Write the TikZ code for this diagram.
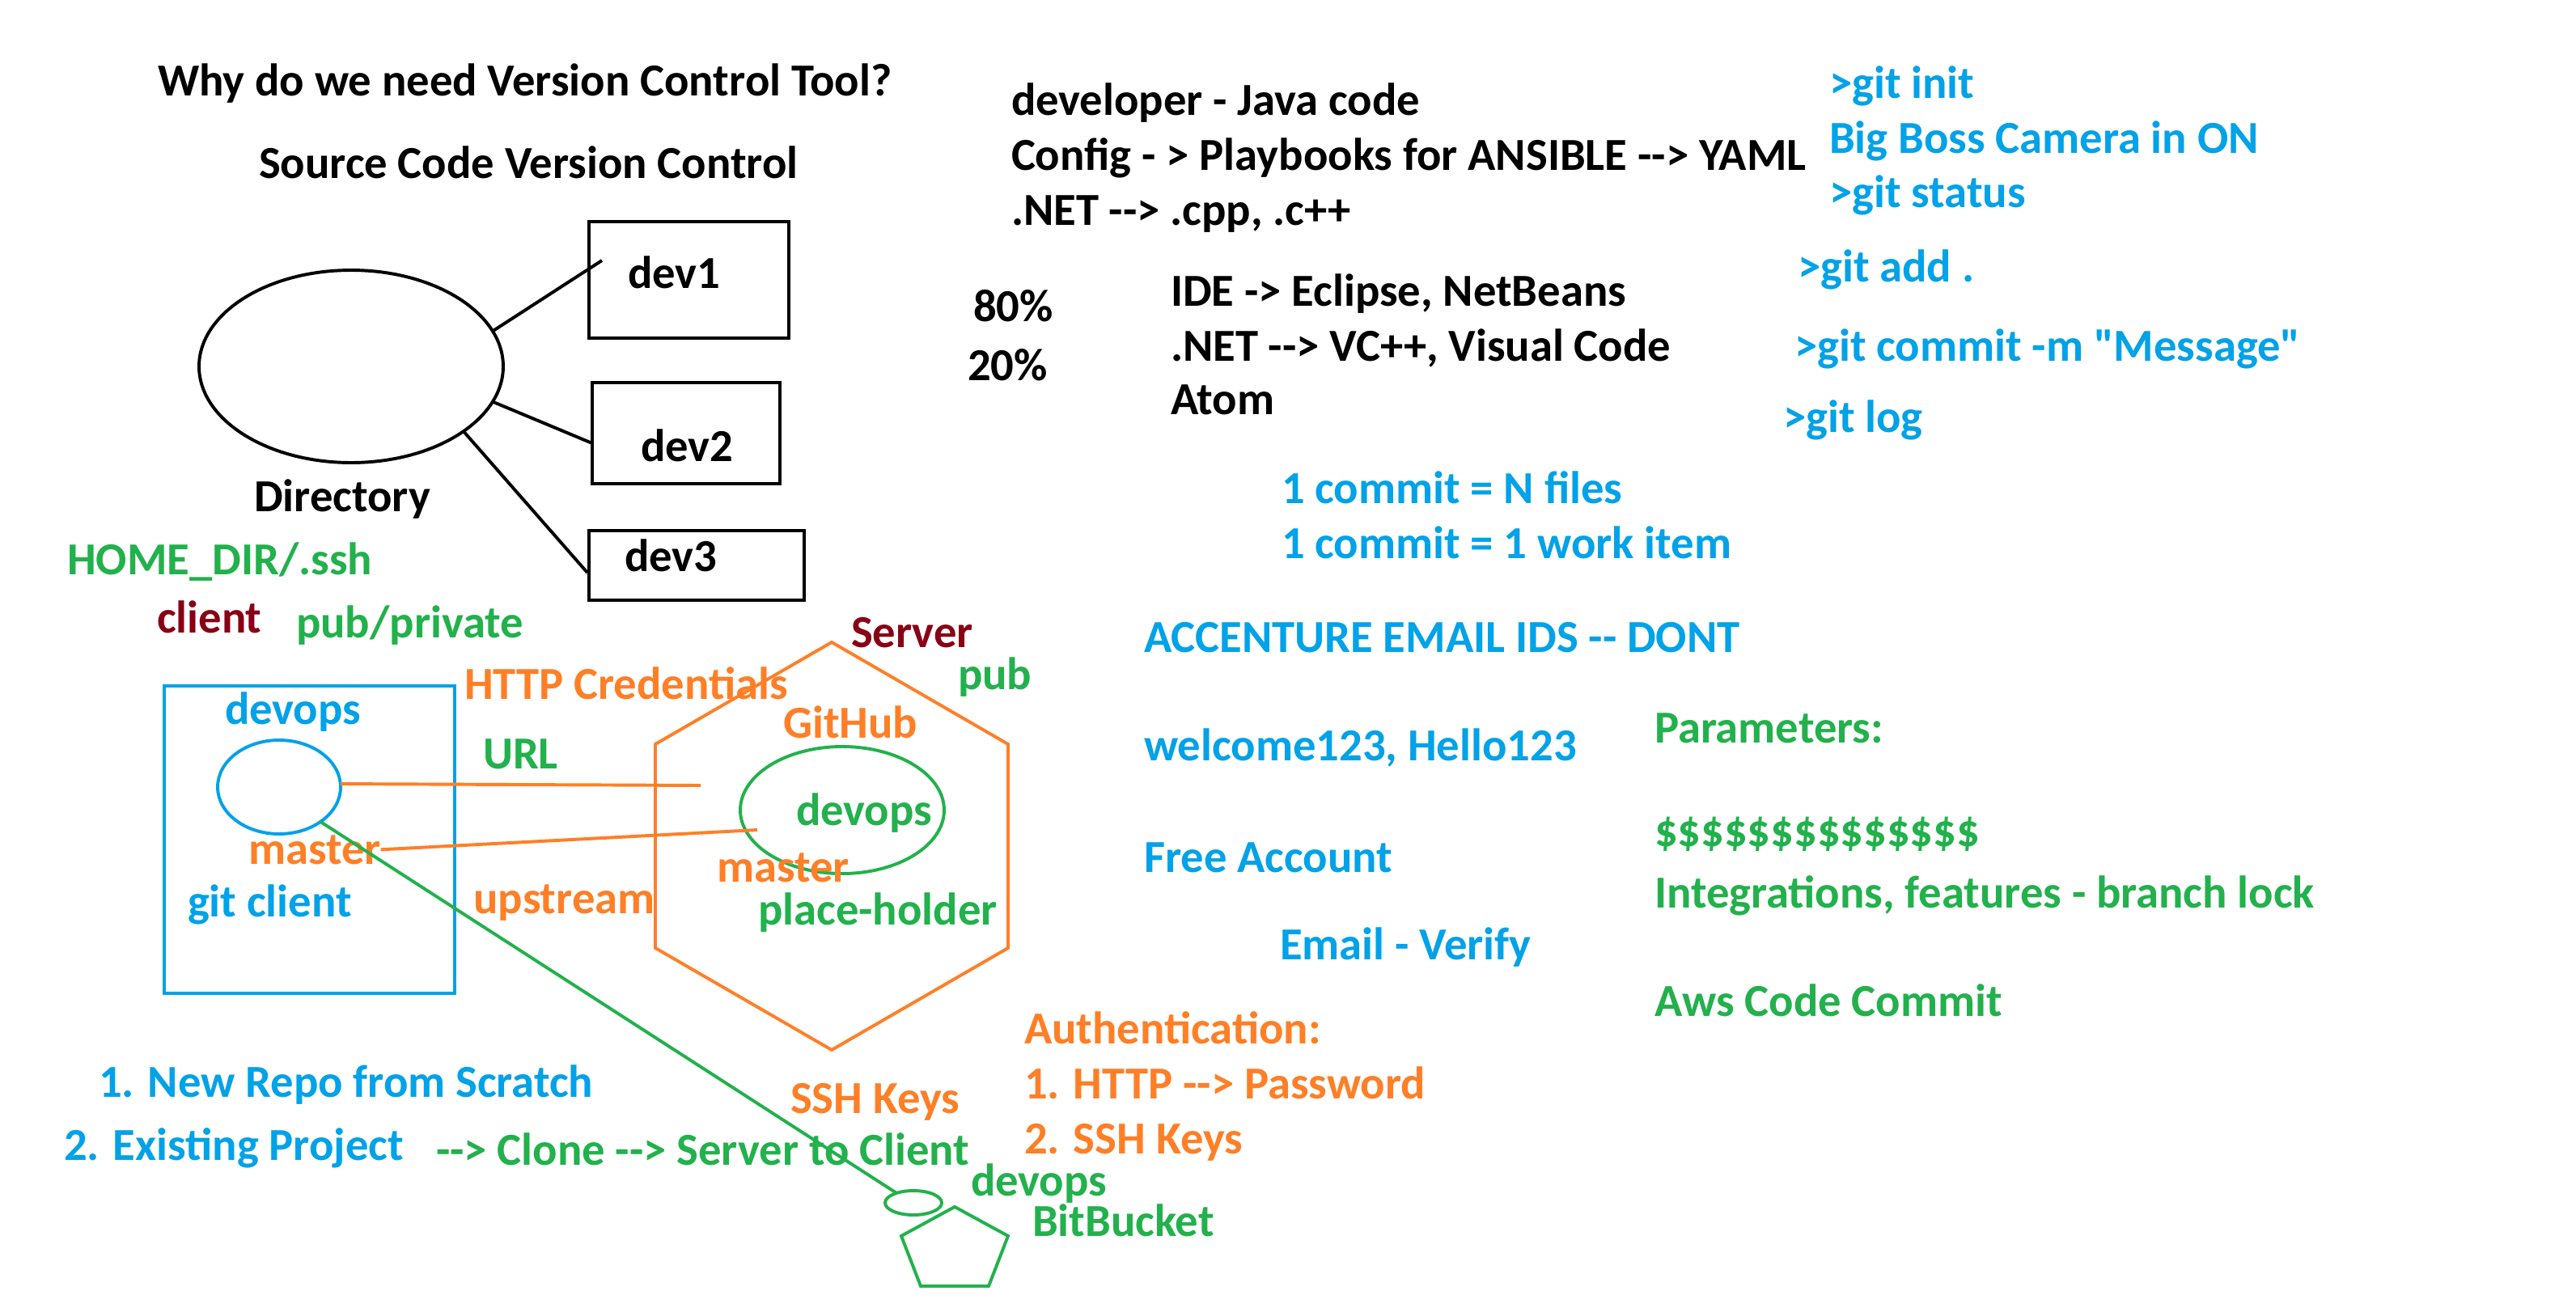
\documentclass[tikz,border=0pt]{standalone}
\usepackage{fontspec}
\newfontfamily\calib{Carlito}
\usetikzlibrary{shapes.geometric}
\definecolor{cblue}{RGB}{0,162,232}
\definecolor{corange}{RGB}{255,127,39}
\definecolor{cgreen}{RGB}{34,177,76}
\definecolor{cred}{RGB}{136,0,21}
\begin{document}
\begin{tikzpicture}[x=0.05cm,y=-0.05cm,
  txt/.style={anchor=base west,inner sep=0pt,outer sep=0pt,font=\calib\bfseries\fontsize{40.3}{48}\selectfont},
  txtblack/.style={txt,text=black},
  txtblue/.style={txt,text=cblue},
  txtgreen/.style={txt,text=cgreen},
  txtorange/.style={txt,text=corange},
  txtred/.style={txt,text=cred},
  shapeline/.style={line width=2.8pt,inner sep=0pt,outer sep=0pt},
  conn/.style={line width=2.8pt}]
\fill[white] (0,0) rectangle (1592,800);
\useasboundingbox (0,0) rectangle (1592,800);

% ---- top-left: directory and devs
\node[txtblack] (title) at (97.5,59) {Why do we need Version Control Tool?};
\node[txtblack] (scvc) at (160,110) {Source Code Version Control};
\node[shapeline,draw=black,ellipse,minimum width=9.4cm,minimum height=5.95cm] (dir) at (217,226.5) {};
\node[shapeline,draw=black,rectangle,minimum width=6.175cm,minimum height=3.6cm] (box1) at (425.75,173) {};
\node[shapeline,draw=black,rectangle,minimum width=5.8cm,minimum height=3.125cm] (box2) at (424,267.75) {};
\node[shapeline,draw=black,rectangle,minimum width=6.65cm,minimum height=2.15cm] (box3) at (430.5,349.5) {};
\node[txtblack] (dev1) at (388,178) {dev1};
\node[txtblack] (dev2) at (396,285) {dev2};
\node[txtblack] (dev3) at (386,353) {dev3};
\coordinate (e1) at (372,161);
\coordinate (e2) at (366,274);
\coordinate (e3) at (363,354);
\draw[conn,black] (dir.14.5) -- (e1);
\draw[conn,black] (dir.-14.3) -- (e2);
\draw[conn,black] (dir.-30) -- (e3);
\node[txtblack] (directory) at (157,316) {Directory};

% ---- top-middle
\node[txtblack] (l1) at (625,71) {developer - Java code};
\node[txtblack] (l2) at (625,105) {Config - > Playbooks for ANSIBLE --> YAML};
\node[txtblack] (l3) at (625,139) {.NET --> .cpp, .c++};
\node[txtblack] (p80) at (601.5,198.5) {80\%};
\node[txtblack] (p20) at (598,235) {20\%};
\node[txtblack] (ide) at (723.5,189) {IDE -> Eclipse, NetBeans};
\node[txtblack] (vc) at (723.5,223) {.NET --> VC++, Visual Code};
\node[txtblack] (atom) at (723.5,256) {Atom};
\node[txtblue] (c1) at (792,311) {1 commit = N files};
\node[txtblue] (c2) at (792,345) {1 commit = 1 work item};

% ---- top-right git commands
\node[txtblue] (ginit) at (1130.5,60.5) {>git init};
\node[txtblue] (boss) at (1130.5,94.5) {Big Boss Camera in ON};
\node[txtblue] (gstatus) at (1130.5,128) {>git status};
\node[txtblue] (gadd) at (1111,174) {>git add .};
\node[txtblue] (gcommit) at (1109,223) {>git commit -m "Message"};
\node[txtblue] (glog) at (1102,267) {>git log};

% ---- client side
\node[txtgreen] (home) at (41.5,355) {HOME\_DIR/.ssh};
\node[txtred] (client) at (97,391) {client};
\node[txtgreen] (pubpriv) at (183,394) {pub/private};
\node[shapeline,draw=cblue,rectangle,minimum width=8.975cm,minimum height=9.5cm] (cbox) at (191.25,519) {};
\node[txtblue] (devopsB) at (139,447.5) {devops};
\node[shapeline,draw=cblue,ellipse,minimum width=3.8cm,minimum height=2.9cm] (cell) at (172.5,486.5) {};
\node[txtorange] (masterL) at (153.5,534) {master};
\node[txtblue] (gitclient) at (116,566.5) {git client};

% ---- middle labels
\node[txtorange] (httpc) at (287,432) {HTTP Credentials};
\node[txtgreen] (url) at (298.5,475) {URL};
\node[txtorange] (upstream) at (292.7,564.5) {upstream};

% ---- server hexagon
\draw[line width=2.8pt,corange,line join=miter] (514,397) -- (623,460) -- (623,586) -- (514,649) -- (405,586) -- (405,460) -- cycle;
\node[txtred] (server) at (526,400) {Server};
\node[txtgreen] (pubS) at (592,426) {pub};
\node[txtorange] (github) at (484,456) {GitHub};
\node[shapeline,draw=cgreen,ellipse,minimum width=6.3cm,minimum height=3.925cm] (sell) at (520.5,500.75) {};
\node[txtgreen] (devopsG) at (492,510) {devops};
\node[txtorange] (masterR) at (443,545) {master};
\node[txtgreen] (holder) at (468.5,571.5) {place-holder};

% ---- connectors client -> server
\coordinate (o1) at (433,485.5);
\coordinate (o2) at (468,513);
\draw[conn,corange] (cell.3) -- (o1);
\draw[conn,corange] (masterL.east) -- (o2);

% ---- bitbucket
\node[shapeline,draw=cgreen,ellipse,minimum width=1.75cm,minimum height=0.75cm] (bell) at (564.5,743.5) {};
\draw[line width=2.8pt,cgreen,line join=miter] (590,746) -- (623,764) -- (611,795) -- (569,795) -- (557,764) -- cycle;
\draw[conn,cgreen] (cell.-40) -- (bell.150);
\node[txtgreen] (devopsBB) at (600,739) {devops};
\node[txtgreen] (bitbucket) at (638,764) {BitBucket};

% ---- bottom-left
\node[txtblue] (newrepo) at (61,678) {1. New Repo from Scratch};
\node[txtblue] (existing) at (39.5,717) {2. Existing Project};
\node[txtgreen] (clone) at (269.5,720) {--> Clone --> Server to Client};
\node[txtorange] (sshkeys) at (488.5,688) {SSH Keys};

% ---- authentication
\node[txtorange] (auth) at (633,645) {Authentication:};
\node[txtorange] (auth1) at (633,679) {1. HTTP --> Password};
\node[txtorange] (auth2) at (633,713) {2. SSH Keys};

% ---- accounts
\node[txtblue] (acc) at (707,403) {ACCENTURE EMAIL IDS -- DONT};
\node[txtblue] (welcome) at (707,470) {welcome123, Hello123};
\node[txtblue] (free) at (707,539) {Free Account};
\node[txtblue] (verify) at (791,593) {Email - Verify};

% ---- parameters
\node[txtgreen] (params) at (1022.5,459) {Parameters:};
\node[txtgreen] (dollars) at (1022.5,523) {\$\$\$\$\$\$\$\$\$\$\$\$\$\$};
\node[txtgreen] (integr) at (1022.5,561) {Integrations, features - branch lock};
\node[txtgreen] (aws) at (1022.5,628) {Aws Code Commit};
\end{tikzpicture}
\end{document}
